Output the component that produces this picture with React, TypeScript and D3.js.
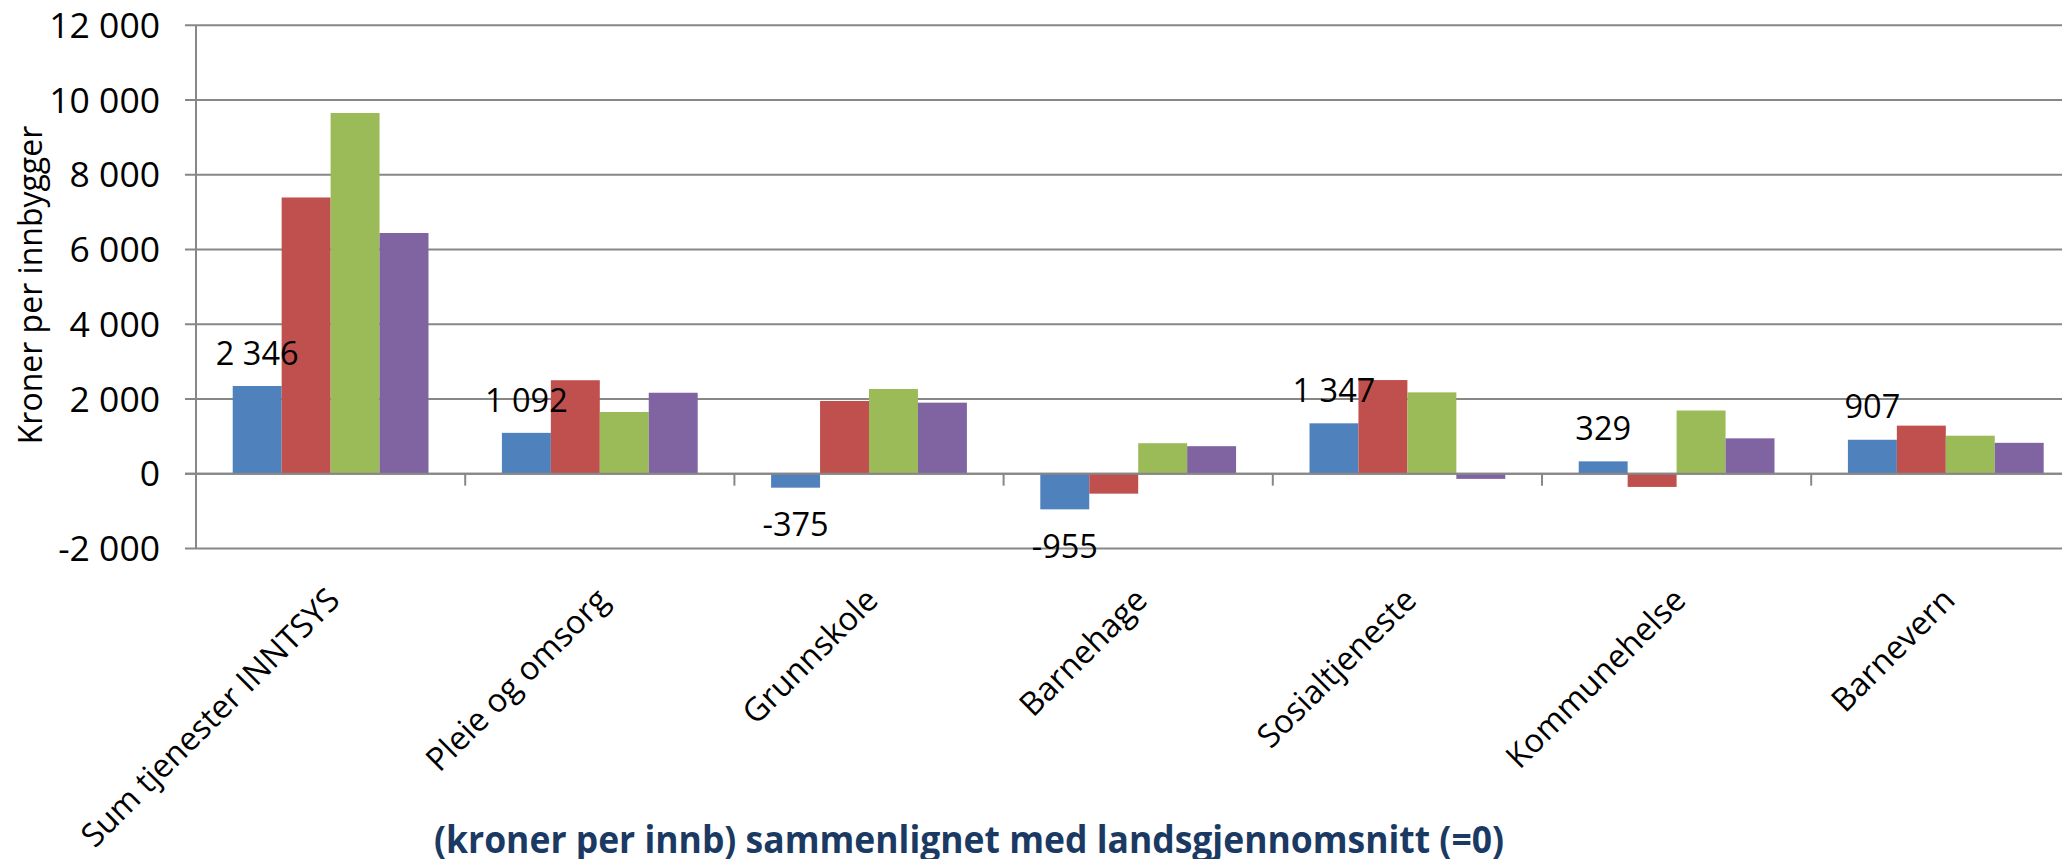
import React from "react";
import * as d3 from "d3";

const categories = [
  "Sum tjenester INNTSYS",
  "Pleie og omsorg",
  "Grunnskole",
  "Barnehage",
  "Sosialtjeneste",
  "Kommunehelse",
  "Barnevern",
];
const seriesBlue = [2346, 1092, -375, -955, 1347, 329, 907];
const seriesRed = [7390, 2500, 1945, -535, 2505, -355, 1285];
const seriesGreen = [9650, 1650, 2265, 815, 2175, 1690, 1015];
const seriesPurple = [6440, 2165, 1900, 735, -140, 945, 825];
const seriesKeys = ["s1", "s2", "s3", "s4"];
const seriesValues = [seriesBlue, seriesRed, seriesGreen, seriesPurple];
const seriesColors = ["#4F81BD", "#C0504D", "#9BBB59", "#8064A2"];
const yTicks = [-2000, 0, 2000, 4000, 6000, 8000, 10000, 12000];
const yTitle = "Kroner per innbygger";
const footerTitle = "(kroner per innb) sammenlignet med landsgjennomsnitt (=0)";

const W = 2062;
const H = 859;
const plotLeft = 196;
const catWidth = 269.2;
const yTop = 25.2;
const yBottom = 548.4;
const FONT = "'Open Sans', 'DejaVu Sans', sans-serif";
const GRID = "#878787";

const fmt = d3.formatLocale({
  decimal: ",",
  thousands: "\u00a0",
  grouping: [3],
  currency: ["", " kr"],
  minus: "-",
}).format(",d");

export default function App() {
  const x = d3
    .scaleBand<string>()
    .domain(categories)
    .range([plotLeft, plotLeft + catWidth * categories.length])
    .paddingInner(0)
    .paddingOuter(0);
  const gap = (x.bandwidth() / 5.5) * 0.75;
  const inner = d3
    .scaleBand<string>()
    .domain(seriesKeys)
    .range([gap, x.bandwidth() - gap])
    .padding(0);
  const y = d3.scaleLinear().domain([-2000, 12000]).range([yBottom, yTop]);
  const y0 = y(0);

  return (
    <svg
      width={W}
      height={H}
      style={{ position: "absolute", left: 0, top: 0, background: "#fff" }}
      fontFamily={FONT}
    >
      <rect x={0} y={0} width={W} height={H} fill="#fff" />
      {/* gridlines */}
      {yTicks.map((t) => (
        <line
          key={"g" + t}
          x1={plotLeft - 11}
          x2={W}
          y1={y(t)}
          y2={y(t)}
          stroke={GRID}
          strokeWidth={2}
        />
      ))}
      {/* y tick labels */}
      {yTicks.map((t) => (
        <text
          key={"t" + t}
          x={160}
          y={y(t)}
          dy="0.36em"
          textAnchor="end"
          fontSize={35.5}
          fill="#000"
        >
          {fmt(t)}
        </text>
      ))}
      {/* y axis */}
      <line x1={plotLeft} x2={plotLeft} y1={yTop} y2={yBottom} stroke={GRID} strokeWidth={2} />
      {/* category ticks */}
      {categories.slice(1).map((c) => (
        <line
          key={"ct" + c}
          x1={x(c)!}
          x2={x(c)!}
          y1={y0}
          y2={y0 + 12}
          stroke={GRID}
          strokeWidth={2}
        />
      ))}
      {/* bars */}
      {seriesValues.map((vals, si) =>
        vals.map((v, ci) => {
          const bx = x(categories[ci])! + inner(seriesKeys[si])!;
          return (
            <rect
              key={si + "-" + ci}
              x={bx}
              width={inner.bandwidth()}
              y={Math.min(y(v), y0)}
              height={Math.abs(y(v) - y0)}
              fill={seriesColors[si]}
            />
          );
        })
      )}
      {/* zero line on top */}
      <line x1={plotLeft - 11} x2={W} y1={y0} y2={y0} stroke={GRID} strokeWidth={2} />
      {/* data labels for first series */}
      {seriesBlue.map((v, ci) => {
        const cx = x(categories[ci])! + inner(seriesKeys[0])! + inner.bandwidth() / 2;
        const cy = v >= 0 ? y(v) - 33 : y(v) + 37;
        return (
          <text
            key={"l" + ci}
            x={cx}
            y={cy}
            dy="0.36em"
            textAnchor="middle"
            fontSize={32.5}
            fill="#000"
          >
            {fmt(v)}
          </text>
        );
      })}
      {/* category labels */}
      {categories.map((c) => {
        const ex = x(c)! + x.bandwidth() / 2 + 11;
        const ey = 602;
        return (
          <text
            key={"c" + c}
            x={ex}
            y={ey}
            textAnchor="end"
            fontSize={32.5}
            fill="#000"
            transform={`rotate(-45 ${ex} ${ey})`}
          >
            {c}
          </text>
        );
      })}
      {/* y axis title */}
      <text
        x={0}
        y={0}
        transform={`translate(42 285) rotate(-90)`}
        textAnchor="middle"
        fontSize={32}
        fill="#000"
      >
        {yTitle}
      </text>
      {/* footer title */}
      <text
        x={434}
        y={853}
        fontSize={37}
        fontWeight="bold"
        fill="#1B3A63"
        textLength={1070}
        lengthAdjust="spacingAndGlyphs"
      >
        {footerTitle}
      </text>
    </svg>
  );
}
